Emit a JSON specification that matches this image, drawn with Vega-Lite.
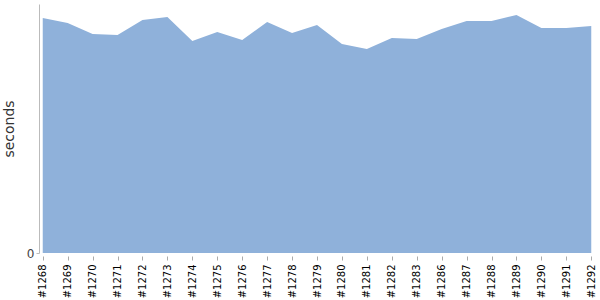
{
  "$schema": "https://vega.github.io/schema/vega-lite/v6.json",
  "width": 556,
  "height": 249,
  "autosize": "none",
  "padding": {"left": 39, "top": 4, "right": 5, "bottom": 47},
  "config": {"view": {"stroke": null}, "font": "DejaVu Sans"},
  "data": {"values": [
    {"build": "#1268", "seconds": 235},
    {"build": "#1269", "seconds": 230},
    {"build": "#1270", "seconds": 219},
    {"build": "#1271", "seconds": 218},
    {"build": "#1272", "seconds": 233},
    {"build": "#1273", "seconds": 236},
    {"build": "#1274", "seconds": 212},
    {"build": "#1275", "seconds": 221},
    {"build": "#1276", "seconds": 213},
    {"build": "#1277", "seconds": 231},
    {"build": "#1278", "seconds": 220},
    {"build": "#1279", "seconds": 228},
    {"build": "#1280", "seconds": 209},
    {"build": "#1281", "seconds": 204},
    {"build": "#1282", "seconds": 215},
    {"build": "#1283", "seconds": 214},
    {"build": "#1286", "seconds": 224},
    {"build": "#1287", "seconds": 232},
    {"build": "#1288", "seconds": 232},
    {"build": "#1289", "seconds": 238},
    {"build": "#1290", "seconds": 225},
    {"build": "#1291", "seconds": 225},
    {"build": "#1292", "seconds": 227}
  ]},
  "mark": {"type": "area", "color": "#8fb1da", "opacity": 1},
  "encoding": {
    "x": {
      "field": "build", "type": "ordinal", "sort": null,
      "scale": {"type": "point", "padding": 0.15},
      "axis": {
        "title": null, "labelAngle": -90, "labelFontSize": 10, "labelColor": "#000",
        "domain": false, "ticks": true, "tickColor": "#aaa", "tickSize": 4, "offset": 3,
        "labelPadding": 4, "grid": false
      }
    },
    "y": {
      "field": "seconds", "type": "quantitative",
      "scale": {"domain": [0, 249], "nice": false},
      "axis": {
        "title": "seconds", "titleFontSize": 14, "titleFontWeight": "normal", "titleColor": "#333",
        "titlePadding": 10,
        "values": [0], "labelFontSize": 12, "labelColor": "#444",
        "domainColor": "#bbb", "tickColor": "#bbb", "tickSize": 3, "grid": false
      }
    }
  }
}
